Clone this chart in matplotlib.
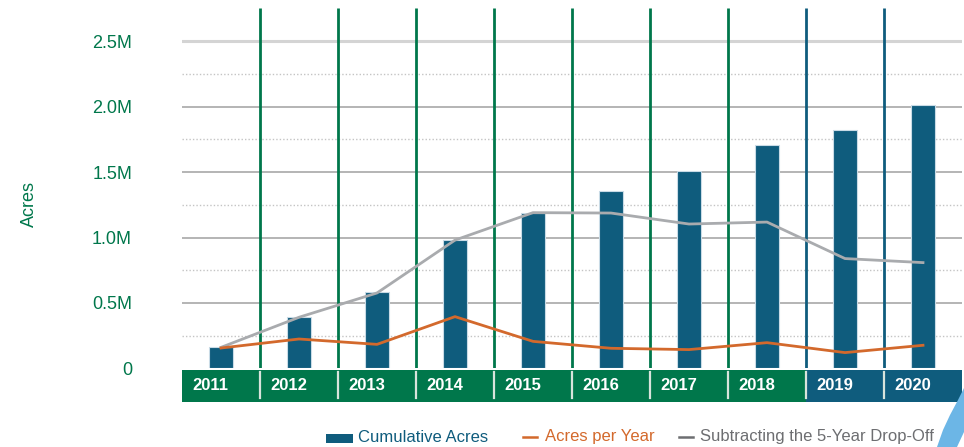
import matplotlib
matplotlib.use("Agg")
import matplotlib.pyplot as plt
from matplotlib.patches import Rectangle, Polygon
from matplotlib.lines import Line2D

years = ["2011", "2012", "2013", "2014", "2015", "2016", "2017", "2018", "2019", "2020"]
cumulative = [0.16, 0.39, 0.58, 0.98, 1.19, 1.353, 1.506, 1.705, 1.825, 2.01]      # millions
per_year = [0.155, 0.224, 0.183, 0.395, 0.206, 0.153, 0.143, 0.196, 0.12, 0.176]   # millions
drop_off = [0.16, 0.39, 0.576, 0.98, 1.19, 1.187, 1.103, 1.118, 0.839, 0.808]      # millions
yticks = [0, 0.5, 1.0, 1.5, 2.0, 2.5]
ytick_labels = ["0", "0.5M", "1.0M", "1.5M", "2.0M", "2.5M"]

GREEN = "#00774b"
BLUE = "#0f5c7d"
ORANGE = "#d3692c"
GRAYL = "#a9abae"
GRID = "#b4b4b4"

plt.rcParams['font.family'] = ['Liberation Sans', 'DejaVu Sans']

W, H = 964, 447
fig = plt.figure(figsize=(W / 100, H / 100), dpi=100)
ax_l, ax_r = 182, 962
ax_b, ax_t = 368.3, 8
ax = fig.add_axes([ax_l / W, (H - ax_b) / H, (ax_r - ax_l) / W, (ax_b - ax_t) / H])
ymax = 2.5 + (41.3 - ax_t) / 130.8
ax.set_xlim(-0.5, len(years) - 0.5)
ax.set_ylim(0, ymax)
for s in ax.spines.values():
    s.set_visible(False)

# gridlines
for v in [0.5, 1.0, 1.5, 2.0]:
    ax.axhline(v, color=GRID, lw=1.4, zorder=1)
ax.axhline(2.5, color="#d4d4d4", lw=2.2, zorder=1)
for v in [0.25, 0.75, 1.25, 1.75, 2.25]:
    ax.axhline(v, color="#c4c4c4", lw=1.0, ls=(0, (1, 1.5)), zorder=1)

# vertical separators
n = len(years)
for i in range(n - 1):
    c = GREEN if i < 7 else BLUE
    ax.plot([i + 0.5, i + 0.5], [0, ymax], color=c, lw=2.0, zorder=2, solid_capstyle='butt')

x = list(range(n))
ax.bar(x, cumulative, width=0.32, color=BLUE, edgecolor="#c9dbe6", linewidth=0.8, zorder=3)
ax.plot(x, drop_off, color=GRAYL, lw=2.0, zorder=4)
ax.plot(x, per_year, color=ORANGE, lw=2.0, zorder=4)

ax.set_yticks(yticks)
ax.set_yticklabels(ytick_labels)
ax.tick_params(axis='y', length=0, pad=36, labelsize=13, labelcolor=GREEN)
ax.set_xticks([])
ax.set_ylabel("Acres", color=GREEN, fontsize=13, labelpad=0)
ax.yaxis.set_label_coords((38 - ax_l) / (ax_r - ax_l), (ax_b - 204) / (ax_b - ax_t))

# category band below the axis
per = 1 / 130.8
band_top = -(370 - ax_b) * per
band_bot = -(402 - ax_b) * per
for i, yr in enumerate(years):
    col = GREEN if i < 8 else BLUE
    ax.add_patch(Rectangle((i - 0.5, band_bot), 1, band_top - band_bot, facecolor=col,
                           edgecolor='none', clip_on=False, zorder=2))
    ax.text(i - 0.5 + 10 / 78, (band_top + band_bot) / 2, yr, color="white", fontsize=12,
            fontweight='bold', family=['Liberation Sans Narrow', 'Liberation Sans'],
            ha='left', va='center', clip_on=False, zorder=5)
for i in range(n - 1):
    ax.plot([i + 0.5, i + 0.5], [-(372 - ax_b) * per, -(398 - ax_b) * per], color="#d8e4dc",
            lw=1.6, clip_on=False, zorder=4)

# decorative swoosh
sw = [(964, 388), (958, 400), (950, 415), (943, 430), (937, 447), (957, 447), (964, 432)]
fig.patches.append(Polygon([(px / W, 1 - py / H) for px, py in sw],
                           closed=True, transform=fig.transFigure, facecolor="#6cb6e6",
                           edgecolor='none', zorder=0))

# legend
ly = 1 - 437 / H
fig.patches.append(Rectangle((326 / W, 1 - 443 / H), 27 / W, 9 / H, transform=fig.transFigure,
                             facecolor=BLUE, edgecolor='none'))
fig.text(358 / W, ly, "Cumulative Acres", color=BLUE, fontsize=12, va='center', ha='left', zorder=3)
fig.add_artist(Line2D([523 / W, 537 / W], [ly, ly], transform=fig.transFigure, color=ORANGE, lw=1.8))
fig.text(545 / W, ly, "Acres per Year", color=ORANGE, fontsize=12, va='center', ha='left', zorder=3)
fig.add_artist(Line2D([679 / W, 693 / W], [ly, ly], transform=fig.transFigure, color="#6d6e71", lw=1.8))
fig.text(700 / W, ly, "Subtracting the 5-Year Drop-Off", color="#6d6e71", fontsize=12, va='center',
         ha='left', zorder=3)

fig.savefig("out.png", dpi=100)
